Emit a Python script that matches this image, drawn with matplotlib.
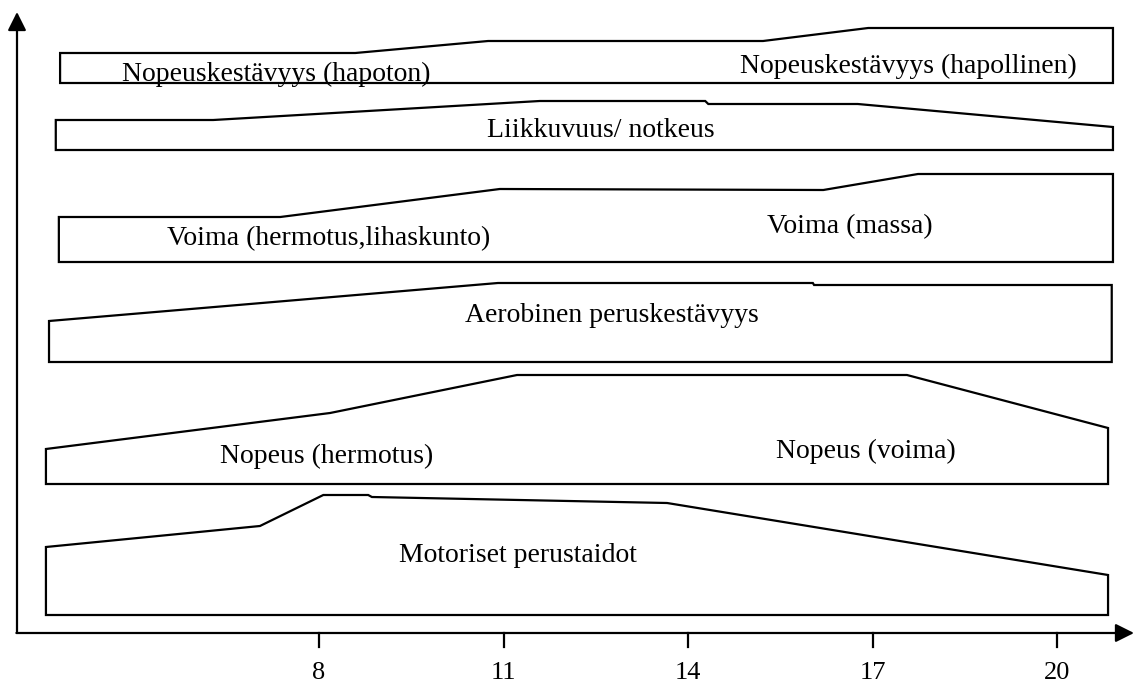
import matplotlib
matplotlib.use("Agg")
import matplotlib.pyplot as plt
from matplotlib.patches import Polygon

# ---- data (x = age in years, y = relative level) ----
tick_ages = [8, 11, 14, 17, 20]
tick_labels = ["8", "11", "14", "17", "20"]

# each band: x positions of top profile, top heights, bottom height
motor_x = [3.56, 7.04, 8.07, 8.80, 8.86, 13.66, 20.83]
motor_top = [86, 107, 138, 138, 136, 130, 58]
motor_bottom = 18

nopeus_x = [3.56, 8.18, 11.22, 17.56, 20.83]
nopeus_top = [184, 220, 258, 258, 205]
nopeus_bottom = 149

aero_x = [3.61, 10.91, 16.03, 16.05, 20.89]
aero_top = [312, 350, 350, 348, 348]
aero_bottom = 271

voima_x = [3.77, 7.37, 10.94, 16.20, 17.74, 20.91]
voima_top = [416, 416, 444, 443, 459, 459]
voima_bottom = 371

liik_x = [3.72, 6.28, 11.59, 14.28, 14.33, 16.76, 20.91]
liik_top = [513, 513, 532, 532, 529, 529, 506]
liik_bottom = 483

nkest_x = [3.79, 8.59, 10.75, 15.22, 16.93, 20.91]
nkest_top = [580, 580, 592, 592, 605, 605]
nkest_bottom = 550

# labels: (text, x centre, baseline y)
label_texts = ["Nopeuskestävyys (hapoton)", "Nopeuskestävyys (hapollinen)",
               "Liikkuvuus/ notkeus", "Voima (hermotus,lihaskunto)",
               "Voima (massa)", "Aerobinen peruskestävyys",
               "Nopeus (hermotus)", "Nopeus (voima)", "Motoriset perustaidot"]
label_x = [7.30, 17.59, 12.59, 8.15, 16.63, 12.77, 8.12, 16.90, 11.23]
label_y = [552, 560, 496, 388, 400, 311, 170, 175, 71]

# ---- figure ----
PX = 61.5  # pixels per year
def px2age(p):
    return 8 + (p - 319) / PX

fig = plt.figure(figsize=(11.35, 6.88), dpi=100)
ax = fig.add_axes([0, 0, 1, 1])
ax.set_xlim(px2age(0), px2age(1135))
ax.set_ylim(-55, 633)
ax.axis("off")

LW = 1.6
bands = [(motor_x, motor_top, motor_bottom),
         (nopeus_x, nopeus_top, nopeus_bottom),
         (aero_x, aero_top, aero_bottom),
         (voima_x, voima_top, voima_bottom),
         (liik_x, liik_top, liik_bottom),
         (nkest_x, nkest_top, nkest_bottom)]
for xs, tops, bot in bands:
    verts = [(xs[0], bot)] + list(zip(xs, tops)) + [(xs[-1], bot)]
    ax.add_patch(Polygon(verts, closed=True, facecolor="white",
                         edgecolor="black", lw=LW, joinstyle="miter"))

font = dict(family=["Liberation Serif", "DejaVu Serif"], fontsize=20)
for t, x, y in zip(label_texts, label_x, label_y):
    ax.text(x, y, t, ha="center", va="baseline", **font)

# axes with arrows
x0 = px2age(17)
ax.annotate("", xy=(x0, 621), xytext=(x0, 0),
            arrowprops=dict(arrowstyle="-|>", lw=LW, color="black",
                            mutation_scale=28, shrinkA=0, shrinkB=0))
ax.annotate("", xy=(px2age(1134), 0), xytext=(x0 - 0.01, 0),
            arrowprops=dict(arrowstyle="-|>", lw=LW, color="black",
                            mutation_scale=28, shrinkA=0, shrinkB=0))

tick_font = dict(family=["Liberation Serif", "DejaVu Serif"], fontsize=19)
for a, lab in zip(tick_ages, tick_labels):
    ax.plot([a, a], [0, -14], color="black", lw=LW)
    ax.text(a, -40, lab, ha="center", va="center", **tick_font)

fig.savefig("out.png", dpi=100)
